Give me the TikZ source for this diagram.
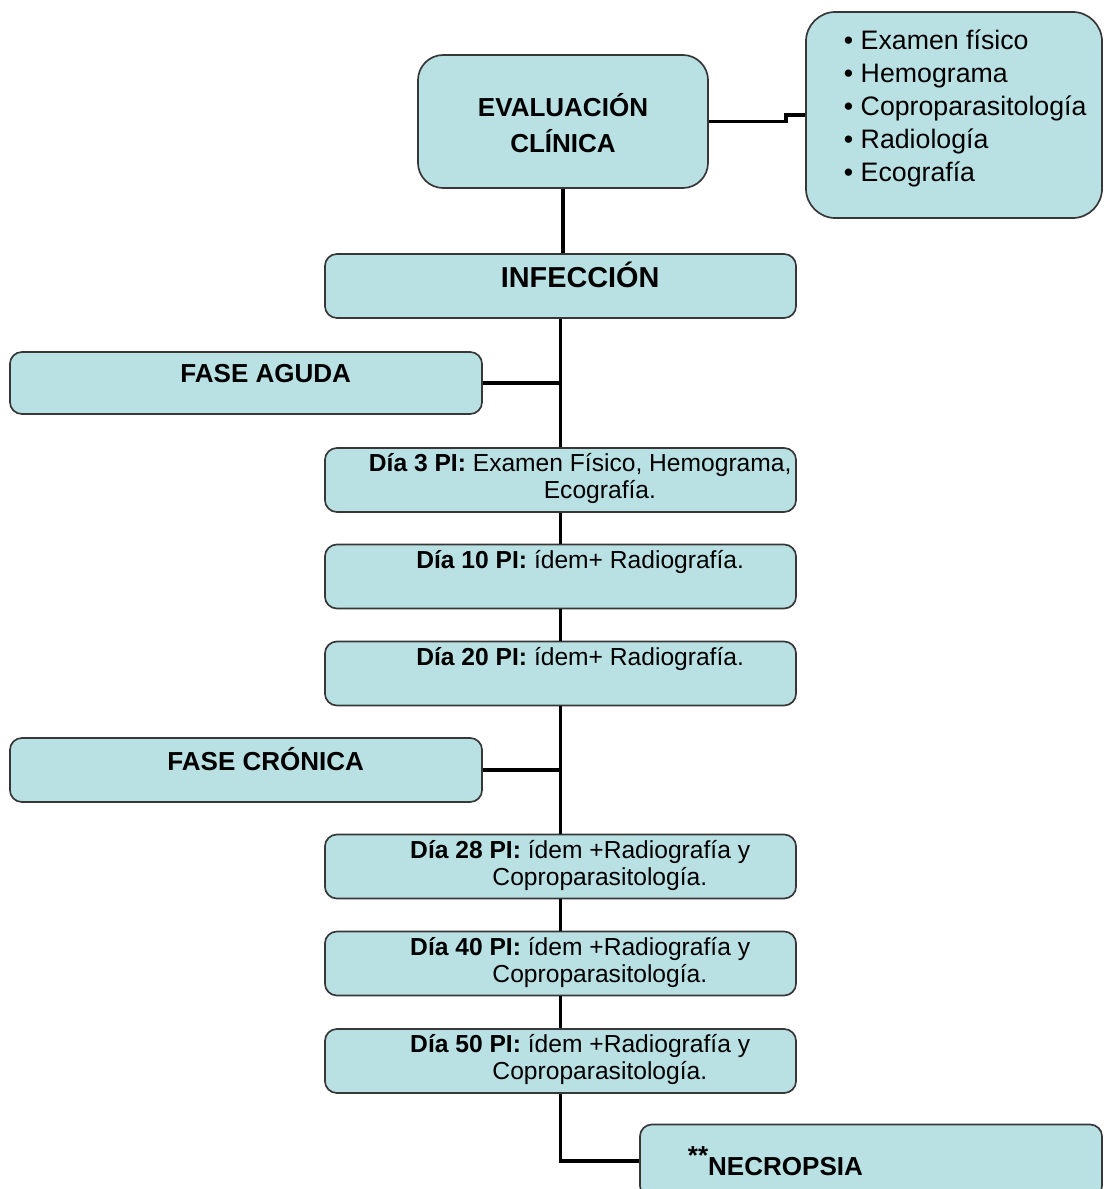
\documentclass[tikz,border=0pt]{standalone}
\usepackage{fontspec}
\setmainfont{Liberation Sans}
\usepackage{tikz}
\usetikzlibrary{positioning}
\definecolor{mcyan}{RGB}{185, 225, 228}
\definecolor{mgray}{RGB}{55, 55, 55}
\tikzset{cbox/.style = {draw=mgray, fill=mcyan, line width=1.2pt, rounded corners=8.5pt,
                        inner sep=0, minimum width=11.775cm, minimum height=1.6cm}}
\tikzset{link/.style = {line width=2.8pt}}
\newcommand{\rpad}{\hspace*{28pt}}
\newcommand{\fsmall}{\fontsize{17.5}{19.2}\selectfont}
\newcommand{\flist}{\fontsize{19}{23.5}\selectfont}
\newcommand{\ftitle}{\fontsize{18.5}{25}\selectfont\bfseries}
\newcommand{\fbig}{\fontsize{20.5}{25}\selectfont\bfseries}

\begin{document}
\begin{tikzpicture}[x=0.025cm, y=-0.025cm]
      \useasboundingbox (0, 0) rectangle (1104, 1189);

      \node [cbox, minimum width=7.25cm, minimum height=3.325cm, rounded corners=18pt] (eval) at (563, 121.5)
            {\ftitle\begin{tabular}{@{}c@{}}\rule{0pt}{26pt}EVALUACIÓN\\CLÍNICA\end{tabular}};
      \node [cbox, minimum width=7.4cm, minimum height=5.15cm, rounded corners=21pt] (lista) at (954, 115)
            {\flist\hspace*{16pt}\begin{tabular}{@{}l@{}}\textbullet\ Examen físico\\\textbullet\ Hemograma\\\textbullet\ Coproparasitología\\\textbullet\ Radiología\\\textbullet\ Ecografía\\[9pt]\end{tabular}};
      \node [cbox] (infec) at (560.5, 286) {\fbig\rpad\begin{tabular}{@{}c@{}}INFECCIÓN\\[9pt]\end{tabular}};

      \node [cbox, minimum width=11.8cm, minimum height=1.55cm] (aguda) at (246, 383)
            {\ftitle\rpad\begin{tabular}{@{}c@{}}FASE AGUDA\\[11pt]\end{tabular}};
      \node [cbox] (d3) at (560.5, 480)
            {\fsmall\rpad\begin{tabular}{@{}c@{}}\textbf{Día 3 PI:} Examen Físico, Hemograma,\\\rpad Ecografía.\end{tabular}};
      \node [cbox] (d10) at (560.5, 576.5)
            {\fsmall\rpad\begin{tabular}{@{}c@{}}\textbf{Día 10 PI:} ídem+ Radiografía.\\ ~\end{tabular}};
      \node [cbox] (d20) at (560.5, 673.5)
            {\fsmall\rpad\begin{tabular}{@{}c@{}}\textbf{Día 20 PI:} ídem+ Radiografía.\\ ~\end{tabular}};

      \node [cbox, minimum width=11.8cm] (cronica) at (246, 770)
            {\ftitle\rpad\begin{tabular}{@{}c@{}}FASE CRÓNICA\\[9pt]\end{tabular}};
      \node [cbox] (d28) at (560.5, 866.5)
            {\fsmall\rpad\begin{tabular}{@{}c@{}}\textbf{Día 28 PI:} ídem +Radiografía y\\\rpad Coproparasitología.\end{tabular}};
      \node [cbox] (d40) at (560.5, 963.5)
            {\fsmall\rpad\begin{tabular}{@{}c@{}}\textbf{Día 40 PI:} ídem +Radiografía y\\\rpad Coproparasitología.\end{tabular}};
      \node [cbox] (d50) at (560.5, 1061)
            {\fsmall\rpad\begin{tabular}{@{}c@{}}\textbf{Día 50 PI:} ídem +Radiografía y\\\rpad Coproparasitología.\end{tabular}};

      \node [cbox, minimum width=11.55cm, minimum height=1.825cm, text width=9.15cm, align=left, inner xsep=1.2cm] (necro) at (871, 1161)
            {\ftitle\raisebox{8pt}{**}NECROPSIA};

      \draw [link] (eval.south) -- (eval.south |- infec.north);
      \draw [link] (eval.east) -- ++(77, 0) |- (lista.west);
      \draw [link] (infec.south) -- (d3.north);
      \draw [link] (aguda.east) -- (aguda.east -| infec.south);
      \draw [link] (d3.south) -- (d10.north);
      \draw [link] (d10.south) -- (d20.north);
      \draw [link] (d20.south) -- (d28.north);
      \draw [link] (cronica.east) -- (cronica.east -| d20.south);
      \draw [link] (d28.south) -- (d40.north);
      \draw [link] (d40.south) -- (d50.north);
      \draw [link] (d50.south) |- (necro.west);
    \end{tikzpicture}
\end{document}
